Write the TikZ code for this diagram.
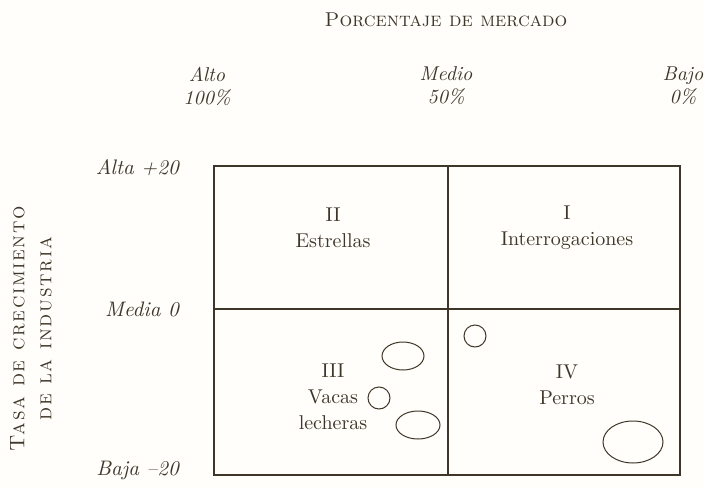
\documentclass[tikz,border=0pt]{standalone}
\usepackage{fontspec}
\setmainfont{lmroman10-regular.otf}[
  ItalicFont=lmroman10-italic.otf,
  SmallCapsFont=lmromancaps10-regular.otf]
\definecolor{ink}{HTML}{3F362A}
\definecolor{paper}{HTML}{FFFEFA}
\begin{document}
\begin{tikzpicture}[x=1pt,y=-1pt,
  every node/.style={text=ink, font=\fontsize{20}{26}\selectfont, inner sep=0pt},
  lbl/.style={align=center},
  axl/.style={align=center, font=\fontsize{20}{23}\selectfont\itshape},
  ylbl/.style={anchor=east, font=\fontsize{21}{23}\selectfont\itshape},
  gridline/.style={draw=ink, line width=1.1pt},
  blob/.style={draw=ink, line width=1pt}]
\fill[paper] (0,0) rectangle (705,488);
\useasboundingbox (0,0) rectangle (705,488);
% grid
\coordinate (tl) at (214,166);
\coordinate (br) at (680,475);
\coordinate (mt) at (448,166);
\coordinate (mb) at (448,475);
\coordinate (ml) at (214,309);
\coordinate (mr) at (680,309);
\draw[gridline] (tl) rectangle (br);
\draw[gridline] (mt) -- (mb);
\draw[gridline] (ml) -- (mr);
% top title
\node (title) at (446,20) {\textsc{Porcentaje de mercado}};
\node[axl] (alto) at (207,86) {Alto\\100\%};
\node[axl] (medio) at (446,86) {Medio\\50\%};
\node[axl] (bajo) at (683,86) {Bajo\\0\%};
% y labels
\node[ylbl] (alta) at (179,168) {Alta +20};
\node[ylbl] (media) at (179,309) {Media 0};
\node[ylbl] (baja) at (179,470) {Baja --20};
\node[lbl, rotate=90, font=\fontsize{21}{27}\selectfont\addfontfeature{LetterSpace=8}] (ytitle) at (31,328) {\textsc{Tasa de crecimiento}\\\textsc{de la industria}};
% quadrant labels
\node[lbl] (q2) at (333,228) {II\\Estrellas};
\node[lbl] (q1) at (567,228) {I\\Interrogaciones};
\node[lbl] (q3) at (333,397) {III\\Vacas\\lecheras};
\node[lbl] (q4) at (567,385) {IV\\Perros};
% products
\draw[blob] (403,356) ellipse [x radius=21, y radius=14];
\draw[blob] (379,398) circle [radius=11];
\draw[blob] (418,425) ellipse [x radius=22, y radius=14];
\draw[blob] (475,336) circle [radius=11];
\draw[blob] (633,442) ellipse [x radius=30, y radius=21];
\end{tikzpicture}
\end{document}
